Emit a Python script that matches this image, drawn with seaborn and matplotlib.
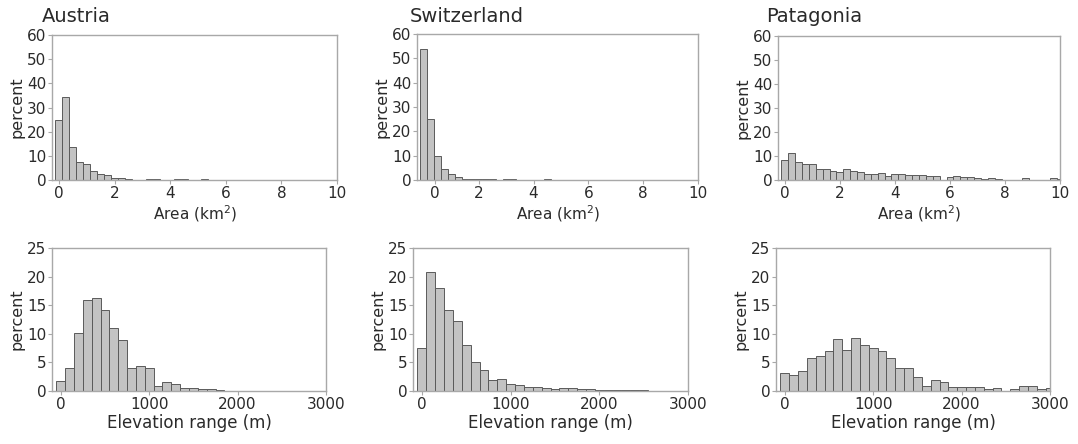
import numpy as np
import pandas as pd
import matplotlib
matplotlib.use("Agg")
import matplotlib.pyplot as plt
import seaborn as sns

# ---------------- data (percent per bin) ----------------
regions = ["Austria", "Switzerland", "Patagonia"]

area_bin_centers = np.arange(0, 10.001, 0.25)      # km², bin width 0.25
elev_bin_centers = np.arange(0, 3000.1, 100)        # m, bin width 100

area_austria = [25.0, 34.2, 13.6, 7.6, 6.5, 3.9, 2.5, 2.1, 1.0, 1.0, 0.4, 0.2, 0.2,
                0.3, 0.3, 0.2, 0.1, 0.3, 0.3, 0.1, 0.1, 0.3, 0.1,
                0, 0, 0, 0, 0, 0, 0, 0, 0, 0, 0, 0, 0, 0, 0, 0, 0, 0]
area_switzerland = [53.8, 25.1, 10.0, 4.4, 2.5, 1.2, 0.6, 0.5, 0.4, 0.6, 0.3, 0.2,
                    0.3, 0.3, 0.2, 0.1, 0.1, 0.2, 0.4, 0.1, 0.1,
                    0, 0, 0, 0, 0, 0, 0, 0, 0, 0, 0, 0, 0, 0, 0, 0, 0, 0, 0, 0]
area_patagonia = [8.4, 11.4, 7.6, 6.7, 6.7, 4.5, 4.7, 3.9, 3.3, 4.4, 3.6, 3.3, 2.5,
                  2.4, 2.8, 1.8, 2.6, 2.3, 2.2, 2.0, 2.2, 1.5, 1.6, 0.0, 1.2, 1.8,
                  1.2, 1.1, 0.8, 0.6, 0.8, 0.3, 0.2, 0.2, 0.2, 0.7, 0.2, 0.1, 0.2,
                  0.8, 0.5]

elev_austria = [1.7, 4.1, 10.1, 15.9, 16.2, 14.2, 11.1, 8.9, 4.1, 4.4, 4.1, 0.8,
                1.6, 1.3, 0.6, 0.6, 0.3, 0.4, 0.2, 0.05, 0.05, 0.05, 0.05, 0.05,
                0.05, 0.05, 0, 0, 0, 0, 0]
elev_switzerland = [7.5, 20.8, 18.0, 14.2, 12.2, 8.0, 5.1, 3.7, 2.0, 2.1, 1.3, 1.0,
                    0.7, 0.7, 0.5, 0.4, 0.6, 0.5, 0.3, 0.3, 0.1, 0.2, 0.1, 0.15,
                    0.15, 0.15, 0.05, 0.05, 0.05, 0.05, 0.05]
elev_patagonia = [3.1, 2.8, 3.5, 5.7, 6.2, 7.0, 9.1, 7.2, 9.3, 8.0, 7.5, 7.0, 5.7,
                  4.0, 4.1, 2.4, 0.8, 2.0, 1.6, 0.7, 0.7, 0.7, 0.7, 0.4, 0.5, 0.05,
                  0.3, 0.8, 0.9, 0.4, 0.6]

area_ticks = [0, 2, 4, 6, 8, 10]
area_ticklabels = ["0", "2", "4", "6", "8", "10"]
elev_ticks = [0, 1000, 2000, 3000]
elev_ticklabels = ["0", "1000", "2000", "3000"]
area_yticks = [0, 10, 20, 30, 40, 50, 60]
elev_yticks = [0, 5, 10, 15, 20, 25]

area_label = "Area (km$^2$)"
elev_label = "Elevation range (m)"
y_label = "percent"

# ---------------- style ----------------
sns.set_theme(style="white")
plt.rcParams["font.family"] = ["DejaVu Sans"]

BAR = "#c3c3c3"
EDGE = "#5a5a5a"
SPINE = "#a8a8a8"
TXT = "#2a2a2a"

W, H = 1078, 444
fig = plt.figure(figsize=(W / 100, H / 100), dpi=100)


def px_axes(left, top, right, bottom):
    return fig.add_axes([left / W, 1 - bottom / H, (right - left) / W, (bottom - top) / H])


def style(ax):
    for s in ax.spines.values():
        s.set_color(SPINE)
        s.set_linewidth(1.0)
    ax.tick_params(axis="both", which="both", length=3, width=0.8, color=SPINE,
                   labelcolor=TXT, labelsize=11, pad=1, direction="out",
                   bottom=True, left=True)
    ax.set_ylabel(y_label, fontsize=11.5, color=TXT, labelpad=2)


def hist(ax, centers, values, width):
    df = pd.DataFrame({"center": np.asarray(centers, dtype=float),
                       "pct": np.asarray(values, dtype=float)})
    sns.histplot(data=df, x="center", weights="pct", binwidth=width,
                 binrange=(df["center"].min() - width / 2, df["center"].max() + width / 2),
                 ax=ax, color=BAR, edgecolor=EDGE, linewidth=0.7, alpha=1.0)


top_boxes = [(52, 35, 337, 180), (417, 34, 698, 180), (778, 36, 1060, 180)]
bot_boxes = [(52, 248, 326, 391), (413, 248, 688, 391), (776, 248, 1050, 391)]
title_x = [42, 410, 766]
area_data = [area_austria, area_switzerland, area_patagonia]
elev_data = [elev_austria, elev_switzerland, elev_patagonia]

for i, name in enumerate(regions):
    # ---- area histogram ----
    ax = px_axes(*top_boxes[i])
    hist(ax, area_bin_centers, area_data[i], 0.25)
    ax.set_xlim(-0.25, 10)
    ax.set_ylim(0, 60)
    ax.set_yticks(area_yticks)
    if name == "Switzerland":
        # the source figure shows the "0" label shifted right
        ax.set_xticks([0.4] + area_ticks[1:])
    else:
        ax.set_xticks(area_ticks)
    ax.set_xticklabels(area_ticklabels)
    style(ax)
    ax.set_xlabel(area_label, fontsize=11, color=TXT, labelpad=2)
    fig.text(title_x[i] / W, 1 - 16 / H, name,
             fontsize=14, color=TXT, ha="left", va="center")

    # ---- elevation range histogram ----
    ax = px_axes(*bot_boxes[i])
    hist(ax, elev_bin_centers, elev_data[i], 100)
    ax.set_xlim(-100, 3000)
    ax.set_ylim(0, 25)
    ax.set_yticks(elev_yticks)
    ax.set_xticks(elev_ticks)
    ax.set_xticklabels(elev_ticklabels)
    style(ax)
    ax.set_xlabel(elev_label, fontsize=12, color=TXT, labelpad=2)

fig.savefig("out.png", dpi=100, facecolor="white")
